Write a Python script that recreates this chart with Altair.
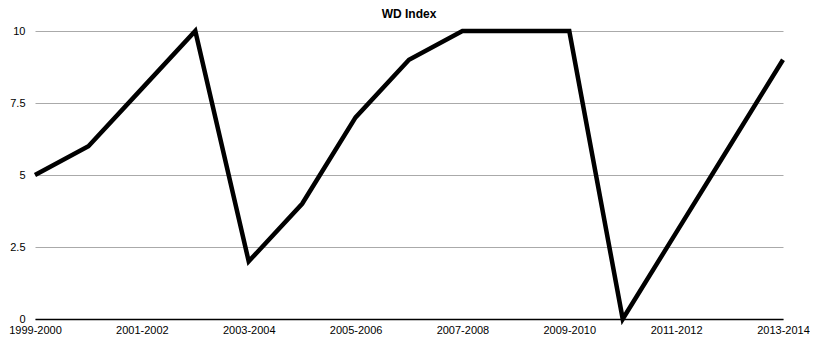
import altair as alt
import pandas as pd

seasons = ["1999-2000", "2000-2001", "2001-2002", "2002-2003", "2003-2004",
           "2004-2005", "2005-2006", "2006-2007", "2007-2008", "2008-2009",
           "2009-2010", "2010-2011", "2011-2012", "2012-2013", "2013-2014"]
wd_index = [5, 6, 8, 10, 2, 4, 7, 9, 10, 10, 10, 0, 3, 6, 9]
shown_labels = seasons[::2]
y_ticks = [0, 2.5, 5, 7.5, 10]

df = pd.DataFrame({"season": seasons, "wd": wd_index})

font = "Liberation Sans"

chart = alt.Chart(df).mark_line(
    color="black", strokeWidth=4.5, strokeJoin="miter"
).encode(
    x=alt.X("season:N", sort=None,
            scale=alt.Scale(type="point", padding=0),
            axis=alt.Axis(title=None, values=shown_labels, labelAngle=0,
                          ticks=False, grid=False, domain=True,
                          domainColor="black", domainWidth=1.5,
                          labelFont=font, labelFontSize=11, labelColor="black",
                          labelPadding=5, labelOverlap=False)),
    y=alt.Y("wd:Q", scale=alt.Scale(domain=[0, 10], nice=False),
            axis=alt.Axis(title=None, values=y_ticks, ticks=False, domain=False,
                          grid=True, gridColor="#aaaaaa", gridWidth=1,
                          labelFont=font, labelFontSize=11, labelColor="black",
                          labelPadding=10, labelFlush=False,
                          labelExpr="datum.value"))
).properties(
    width=748, height=288,
    title=alt.TitleParams("WD Index", font=font, fontSize=12, fontWeight="bold",
                          color="black", offset=1, anchor="middle"),
    padding={"left": 0, "top": 0, "right": 0, "bottom": 0}
).configure_view(stroke=None)

chart.save("out.html", embed_options={"renderer": "svg", "actions": False})
